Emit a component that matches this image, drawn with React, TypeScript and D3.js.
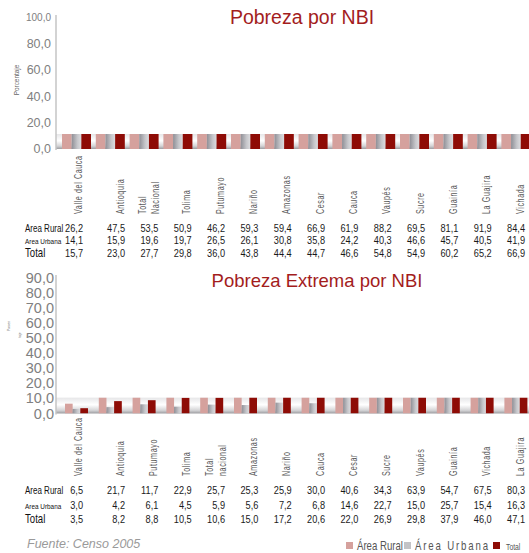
import React from "react";
import * as d3 from "d3";

// ---------- DATA ----------
const categoriesTop = ["Valle del Cauca", "Antioquia", "Total|Nacional", "Tolima", "Putumayo", "Nariño", "Amazonas", "Cesar", "Cauca", "Vaupés", "Sucre", "Guainía", "La Guajira", "Vichada"];
const ruralTop = [26.2, 47.5, 53.5, 50.9, 46.2, 59.3, 59.4, 66.9, 61.9, 88.2, 69.5, 81.1, 91.9, 84.4];
const urbanTop = [14.1, 15.9, 19.6, 19.7, 26.5, 26.1, 30.8, 35.8, 24.2, 40.3, 46.6, 45.7, 40.5, 41.9];
const totalTop = [15.7, 23.0, 27.7, 29.8, 36.0, 43.8, 44.4, 44.7, 46.6, 54.8, 54.9, 60.2, 65.2, 66.9];
const ticksTop = [0, 20, 40, 60, 80, 100];

const categoriesBottom = ["Valle del Cauca", "Antioquia", "Putumayo", "Tolima", "Total|nacional", "Amazonas", "Nariño", "Cauca", "Cesar", "Sucre", "Vaupés", "Guainía", "Vichada", "La Guajira"];
const ruralBottom = [6.5, 21.7, 11.7, 22.9, 25.7, 25.3, 25.9, 30.0, 40.6, 34.3, 63.9, 54.7, 67.5, 80.3];
const urbanBottom = [3.0, 4.2, 6.1, 4.5, 5.9, 5.6, 7.2, 6.8, 14.6, 22.7, 15.0, 25.7, 15.4, 16.3];
const totalBottom = [3.5, 8.2, 8.8, 10.5, 10.6, 15.0, 17.2, 20.6, 22.0, 26.9, 29.8, 37.9, 46.0, 47.1];
const ticksBottom = [0, 10, 20, 30, 40, 50, 60, 70, 80, 90];

const seriesKeys = ["rural", "urban", "total"];
const rowLabels = ["Area Rural", "Area Urbana", "Total"];
const legendLabels = ["Área Rural", "Área Urbana", "Total"];

const PINK = "#d5a19d";
const RED = "#8e0c06";
const TITLE = "#a31d1d";
const SANS = "'Liberation Sans', Arial, sans-serif";

const fmt = (v: number) => v.toFixed(1).replace(".", ",");

// condensed text: horizontal squeeze along the text direction
function NText(props: { x: number; y: number; rot?: number; sx?: number; children: React.ReactNode; [k: string]: any }) {
  const { x, y, rot = 0, sx = 0.8, children, ...rest } = props;
  return (
    <g transform={`translate(${x},${y}) rotate(${rot}) scale(${sx},1)`}>
      <text x={0} y={0} fontFamily={SANS} {...rest}>{children}</text>
    </g>
  );
}

type ChartProps = {
  id: string;
  title: string;
  titleX: number;
  titleY: number;
  titleSize: number;
  categories: string[];
  rural: number[];
  urban: number[];
  total: number[];
  ticks: number[];
  yMax: number;
  yRange: [number, number];
  clipMax: number;
  inner: [number, number];
  tickSize: number;
  tickEnd: number;
  labelBottom: number;
  rowY: number[];
  axisTop: number;
};

function Chart(p: ChartProps) {
  const x = d3.scaleBand<number>().domain(d3.range(p.categories.length)).range([57, 57 + 14 * 33.8]);
  const sub = d3.scaleBand<string>().domain(seriesKeys).range(p.inner);
  const y = d3.scaleLinear().domain([0, p.yMax]).range(p.yRange);
  const colScale = d3.scaleLinear().domain([1, 13]).range([125, 525]);
  const col = (i: number) => (i === 0 ? 83 : colScale(i));
  const series: Record<string, number[]> = { rural: p.rural, urban: p.urban, total: p.total };
  const fills: Record<string, string> = { rural: PINK, urban: `url(#urb-${p.id})`, total: RED };
  const bandTop = y(p.clipMax);
  const base = y(0);
  return (
    <g>
      <defs>
        <linearGradient id={`bg-${p.id}`} x1="0" y1="0" x2="0" y2="1">
          <stop offset="0" stopColor="#e6e6e8" />
          <stop offset="0.45" stopColor="#ffffff" />
          <stop offset="0.8" stopColor="#d4d4d6" />
          <stop offset="1" stopColor="#9c9ca0" />
        </linearGradient>
        <linearGradient id={`urb-${p.id}`} x1="0" y1="0" x2="1" y2="0">
          <stop offset="0" stopColor="#8f8f96" />
          <stop offset="0.6" stopColor="#c6c6ca" />
          <stop offset="1" stopColor="#dcdcdf" />
        </linearGradient>
        <clipPath id={`clip-${p.id}`}>
          <rect x={56} y={bandTop} width={480} height={base - bandTop} />
        </clipPath>
      </defs>
      <text x={p.titleX} y={p.titleY} textAnchor="middle" fontFamily={SANS} fontSize={p.titleSize} fill={TITLE}>{p.title}</text>
      <rect x={56} y={bandTop} width={480} height={base - bandTop} fill={`url(#bg-${p.id})`} />
      <g clipPath={`url(#clip-${p.id})`}>
        {p.categories.map((_, i) =>
          seriesKeys.map((k) => (
            <rect key={`${i}-${k}`} x={(x(i) as number) + (sub(k) as number)} y={y(series[k][i])} width={sub.bandwidth()} height={base - y(series[k][i])} fill={fills[k]} />
          ))
        )}
      </g>
      <line x1={56} x2={56} y1={p.axisTop} y2={base + 1} stroke="#c4c4c4" strokeWidth={1.5} />
      {p.ticks.map((t) => (
        <text key={t} x={p.tickEnd} y={y(t)} dy="0.35em" textAnchor="end" fontFamily={SANS}
          fontSize={t === 100 ? 10 : p.tickSize} fill="#808080">{fmt(t)}</text>
      ))}
      {p.categories.map((c, i) => {
        const parts = c.split("|");
        const cx = col(i);
        return parts.map((part, j) => {
          const lx = parts.length === 1 ? cx - 5 : cx - 16 + j * 13;
          return (
            <NText key={`${i}-${j}`} x={lx} y={p.labelBottom} rot={-90} sx={0.68} dy="0.35em"
              fontSize={10.5} letterSpacing={0.9} fill="#5a5a5a">{part}</NText>
          );
        });
      })}
      {rowLabels.map((r, ri) => (
        <NText key={r} x={25} y={p.rowY[ri]} sx={0.8}
          fontSize={ri === 0 ? 10 : ri === 1 ? 8 : 12} fill="#111">{r}</NText>
      ))}
      {seriesKeys.map((k, ri) =>
        series[k].map((v, i) => (
          <NText key={`${k}-${i}`} x={col(i)} y={p.rowY[ri]} sx={0.8} textAnchor="end" fontSize={11.5} fill="#1a1a1a">{fmt(v)}</NText>
        ))
      )}
    </g>
  );
}

export default function App() {
  return (
    <svg width={529} height={553} style={{ position: "absolute", left: 0, top: 0, background: "#fff" }}>
      <Chart id="a" title="Pobreza por NBI" titleX={302} titleY={24} titleSize={19.5}
        categories={categoriesTop} rural={ruralTop} urban={urbanTop} total={totalTop}
        ticks={ticksTop} yMax={100} yRange={[149, 17.5]} clipMax={11.4} inner={[5, 34]}
        tickSize={12.5} tickEnd={51} labelBottom={214} rowY={[232, 244, 257]} axisTop={15} />
      <NText x={16} y={80} rot={-90} sx={0.8} textAnchor="middle" dy="0.35em" fontSize={8} fill="#666">Porcentaje</NText>

      <Chart id="b" title="Pobreza Extrema por NBI" titleX={317} titleY={287} titleSize={18.5}
        categories={categoriesBottom} rural={ruralBottom} urban={urbanBottom} total={totalBottom}
        ticks={ticksBottom} yMax={90} yRange={[413.5, 277.5]} clipMax={10.5} inner={[8, 31]}
        tickSize={14.5} tickEnd={54} labelBottom={476} rowY={[494, 509, 523]} axisTop={275} />
      <NText x={9} y={326} rot={-90} sx={0.8} textAnchor="middle" dy="0.35em" fontSize={4} fill="#666">Porcen</NText>
      <NText x={20} y={335} rot={-90} sx={0.8} textAnchor="middle" dy="0.35em" fontSize={4} fill="#666">taje</NText>

      <text x={27} y={548} fontFamily={SANS} fontStyle="italic" fontSize={12.5} fill="#9a9a9a">Fuente: Censo 2005</text>

      <rect x={346} y={542} width={7} height={7} fill={PINK} />
      <NText x={357} y={550} sx={0.77} fontSize={12.5} fill="#555">{legendLabels[0]}</NText>
      <rect x={404} y={542} width={7} height={7} fill="#c3c3c6" />
      <NText x={415} y={550} sx={0.77} fontSize={12.5} letterSpacing={2.4} fill="#555">{legendLabels[1]}</NText>
      <rect x={493} y={542} width={7} height={7} fill={RED} />
      <NText x={506} y={550} sx={0.8} fontSize={8.5} fill="#555">{legendLabels[2]}</NText>
    </svg>
  );
}
